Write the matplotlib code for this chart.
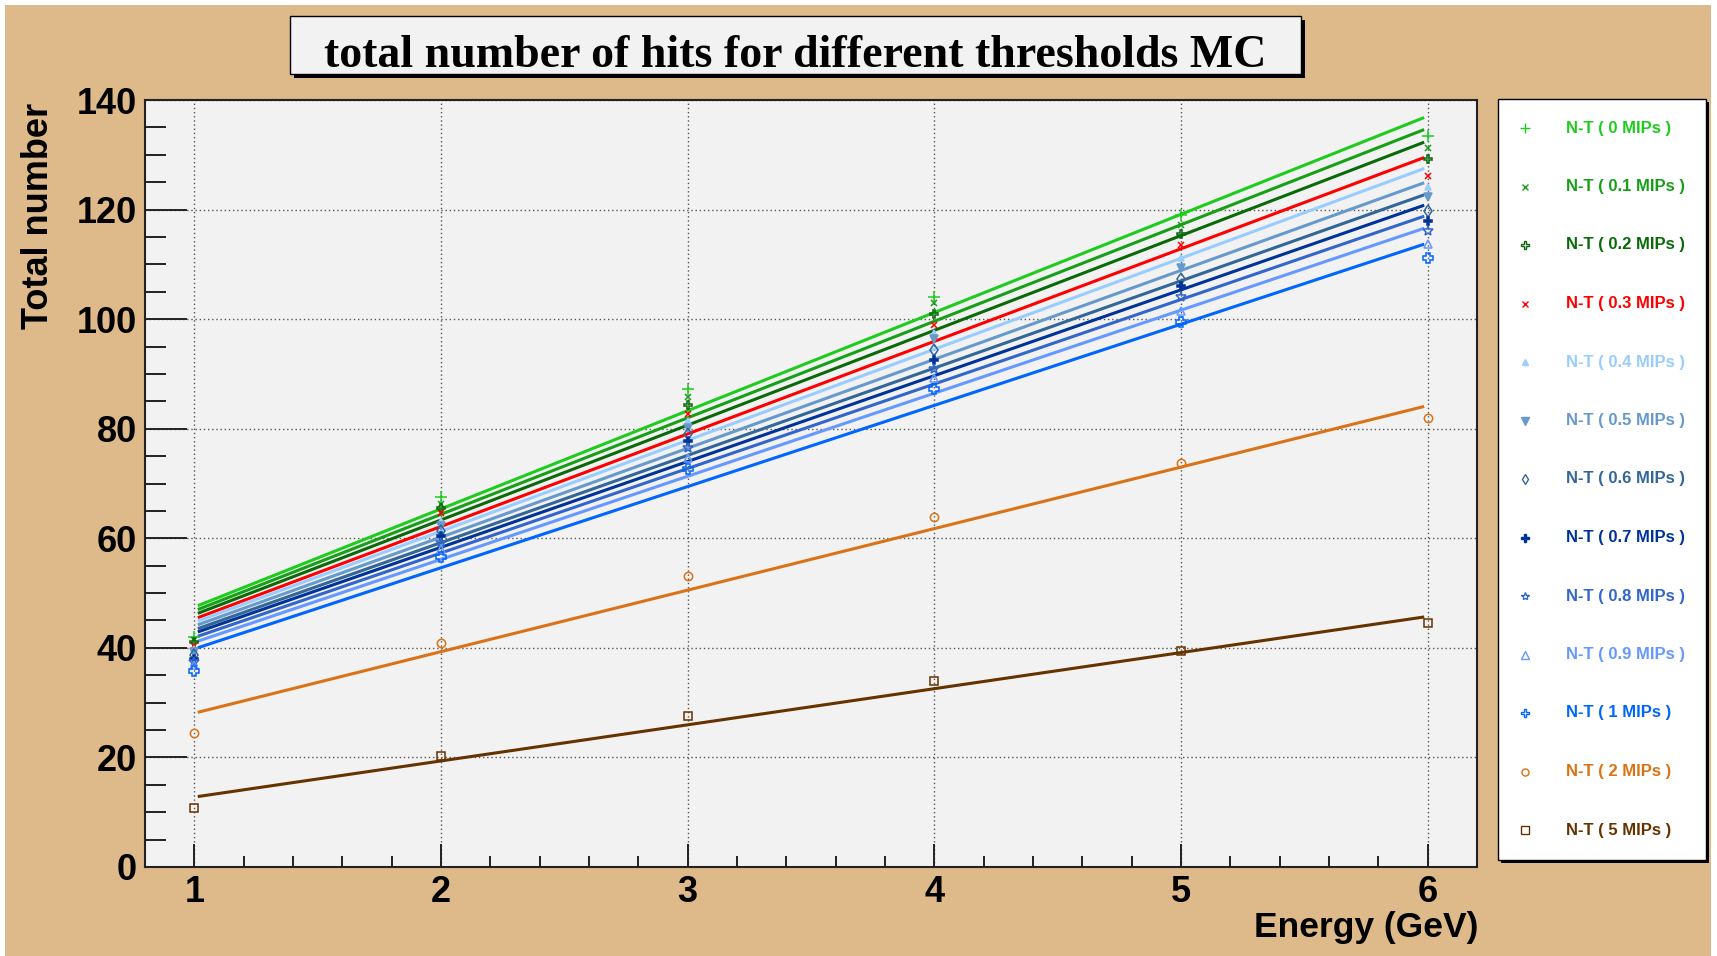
import matplotlib
matplotlib.use('Agg')
import matplotlib.pyplot as plt
from matplotlib.patches import Rectangle
from matplotlib.ticker import MultipleLocator

plt.rcParams['font.family'] = ['Liberation Sans', 'DejaVu Sans']
plt.rcParams['font.weight'] = 'bold'

# ---- data ----
energy = [1, 2, 3, 4, 5, 6]
thresholds = ['0', '0.1', '0.2', '0.3', '0.4', '0.5', '0.6', '0.7', '0.8', '0.9', '1', '2', '5']

hits_0 = [42.0, 67.6, 87.2, 104.1, 119.0, 133.5]
hits_01 = [41.5, 66.3, 85.8, 102.9, 117.2, 131.3]
hits_02 = [41.0, 65.5, 84.3, 100.9, 115.6, 129.2]
hits_03 = [40.3, 64.6, 82.6, 99.0, 113.5, 126.2]
hits_04 = [39.8, 63.2, 81.4, 97.5, 111.1, 124.1]
hits_05 = [39.2, 62.2, 80.1, 96.3, 109.4, 122.3]
hits_06 = [38.7, 61.3, 79.0, 94.4, 107.4, 119.8]
hits_07 = [38.0, 60.4, 77.8, 92.6, 106.0, 118.0]
hits_08 = [37.4, 59.2, 76.4, 90.9, 104.0, 116.0]
hits_09 = [36.8, 58.0, 74.7, 89.3, 101.5, 113.8]
hits_1 = [35.8, 56.5, 72.7, 87.3, 99.5, 111.2]
hits_2 = [24.5, 40.8, 53.2, 63.8, 73.7, 82.0]
hits_5 = [10.7, 20.3, 27.5, 33.9, 39.5, 44.5]
hits = [hits_0, hits_01, hits_02, hits_03, hits_04, hits_05, hits_06,
        hits_07, hits_08, hits_09, hits_1, hits_2, hits_5]

# linear fit lines: value at start and end of the fit range
fit_x = [1.02, 5.98]
fit_start = [47.8, 47.1, 46.4, 45.6, 45.0, 44.3, 43.6, 43.0, 42.2, 41.3, 40.1, 28.3, 12.9]
fit_end = [136.7, 134.5, 132.2, 129.4, 127.4, 124.8, 122.6, 120.7, 118.7, 116.5, 113.6, 84.0, 45.6]

colors = ['#1ECC1E', '#17A017', '#0A6A0A', '#FF0000', '#99CCFF', '#6699CC', '#336699',
          '#003399', '#3366CC', '#6699FF', '#0066FF', '#D97316', '#663300']
markers = ['+', 'x', 'P', 'x', '^', 'v', 'd', 'P', '*', '^', 'P', 'o', 's']
filled = [True, True, False, True, True, True, False, True, False, False, False, False, False]
msizes = [8, 5, 6, 5, 5, 6, 6, 6, 7, 6, 7, 6, 6]

W, H = 1717, 956
tan = '#DEB98A'
panel = '#F2F2F2'

fig = plt.figure(figsize=(W / 100, H / 100), dpi=100)
fig.patch.set_facecolor('white')
fig.patches.append(Rectangle((5 / W, 0), 1706 / W, 951 / H, transform=fig.transFigure,
                             facecolor=tan, edgecolor='none', zorder=-10))


def box(x0, y0, x1, y1, face, shadow=4):
    fig.patches.append(Rectangle(((x0 + shadow) / W, 1 - (y1 + shadow) / H), (x1 - x0) / W,
                                 (y1 - y0) / H, transform=fig.transFigure,
                                 facecolor='black', edgecolor='none', zorder=-5))
    fig.patches.append(Rectangle((x0 / W, 1 - y1 / H), (x1 - x0) / W, (y1 - y0) / H,
                                 transform=fig.transFigure, facecolor=face,
                                 edgecolor='black', lw=1.0, zorder=-4))


# title
box(290, 16, 1301, 74, panel)
fig.text(795.5 / W, 1 - 56 / H, 'total number of hits for different thresholds MC',
         family=['Liberation Serif', 'DejaVu Serif'], fontsize=33, fontweight='bold',
         ha='center', va='center')

# main axes
ax = fig.add_axes([145 / W, 1 - 867 / H, 1332 / W, 767 / H])
ax.set_facecolor(panel)

for i in range(len(thresholds)):
    ax.plot(fit_x, [fit_start[i], fit_end[i]], color=colors[i], lw=2.2, zorder=3)
    ax.plot(energy, hits[i], ls='none', marker=markers[i], ms=msizes[i],
            mfc=colors[i] if filled[i] else 'none', mec=colors[i], mew=1.1, zorder=4)

ax.set_xlim(0.8, 6.2)
ax.set_ylim(0, 140)
ax.xaxis.set_major_locator(MultipleLocator(1))
ax.xaxis.set_minor_locator(MultipleLocator(0.2))
ax.yaxis.set_major_locator(MultipleLocator(20))
ax.yaxis.set_minor_locator(MultipleLocator(5))
ax.grid(True, which='major', ls=(0, (1, 2)), color='#555555', lw=1.0, zorder=1)
ax.set_axisbelow(True)

ax.tick_params(axis='both', which='both', direction='in', color='#222222', width=1.4,
               labelsize=26, pad=6)
ax.tick_params(axis='x', which='major', length=16.5)
ax.tick_params(axis='x', which='minor', length=8)
ax.tick_params(axis='y', which='major', length=30)
ax.tick_params(axis='y', which='minor', length=15)
for lab in ax.get_xticklabels() + ax.get_yticklabels():
    lab.set_fontweight('bold')
for s in ax.spines.values():
    s.set_linewidth(1.5)
    s.set_color('#222222')

fig.text(38 / W, 1 - 103 / H, 'Total number', rotation=90, ha='center', va='top',
         fontsize=26, fontweight='bold')
fig.text(1478 / W, 1 - 927 / H, 'Energy (GeV)', ha='right', va='center',
         fontsize=25.5, fontweight='bold')

# legend
box(1498, 99, 1706, 860, 'white', shadow=3)
lax = fig.add_axes([1498 / W, 1 - 860 / H, 208 / W, 761 / H])
lax.set_xlim(0, 208)
lax.set_ylim(761, 0)
lax.axis('off')
for i, t in enumerate(thresholds):
    yy = 29 + i * 58.5
    lax.plot([27], [yy], ls='none', marker=markers[i], ms=msizes[i] * 0.85,
             mfc=colors[i] if filled[i] else 'none', mec=colors[i], mew=1.0)
    lax.text(68, yy, 'N-T ( {0} MIPs )'.format(t), color=colors[i], fontsize=12,
             fontweight='bold', ha='left', va='center')

fig.savefig('out.png', dpi=100, facecolor=fig.get_facecolor())
plt.close(fig)
